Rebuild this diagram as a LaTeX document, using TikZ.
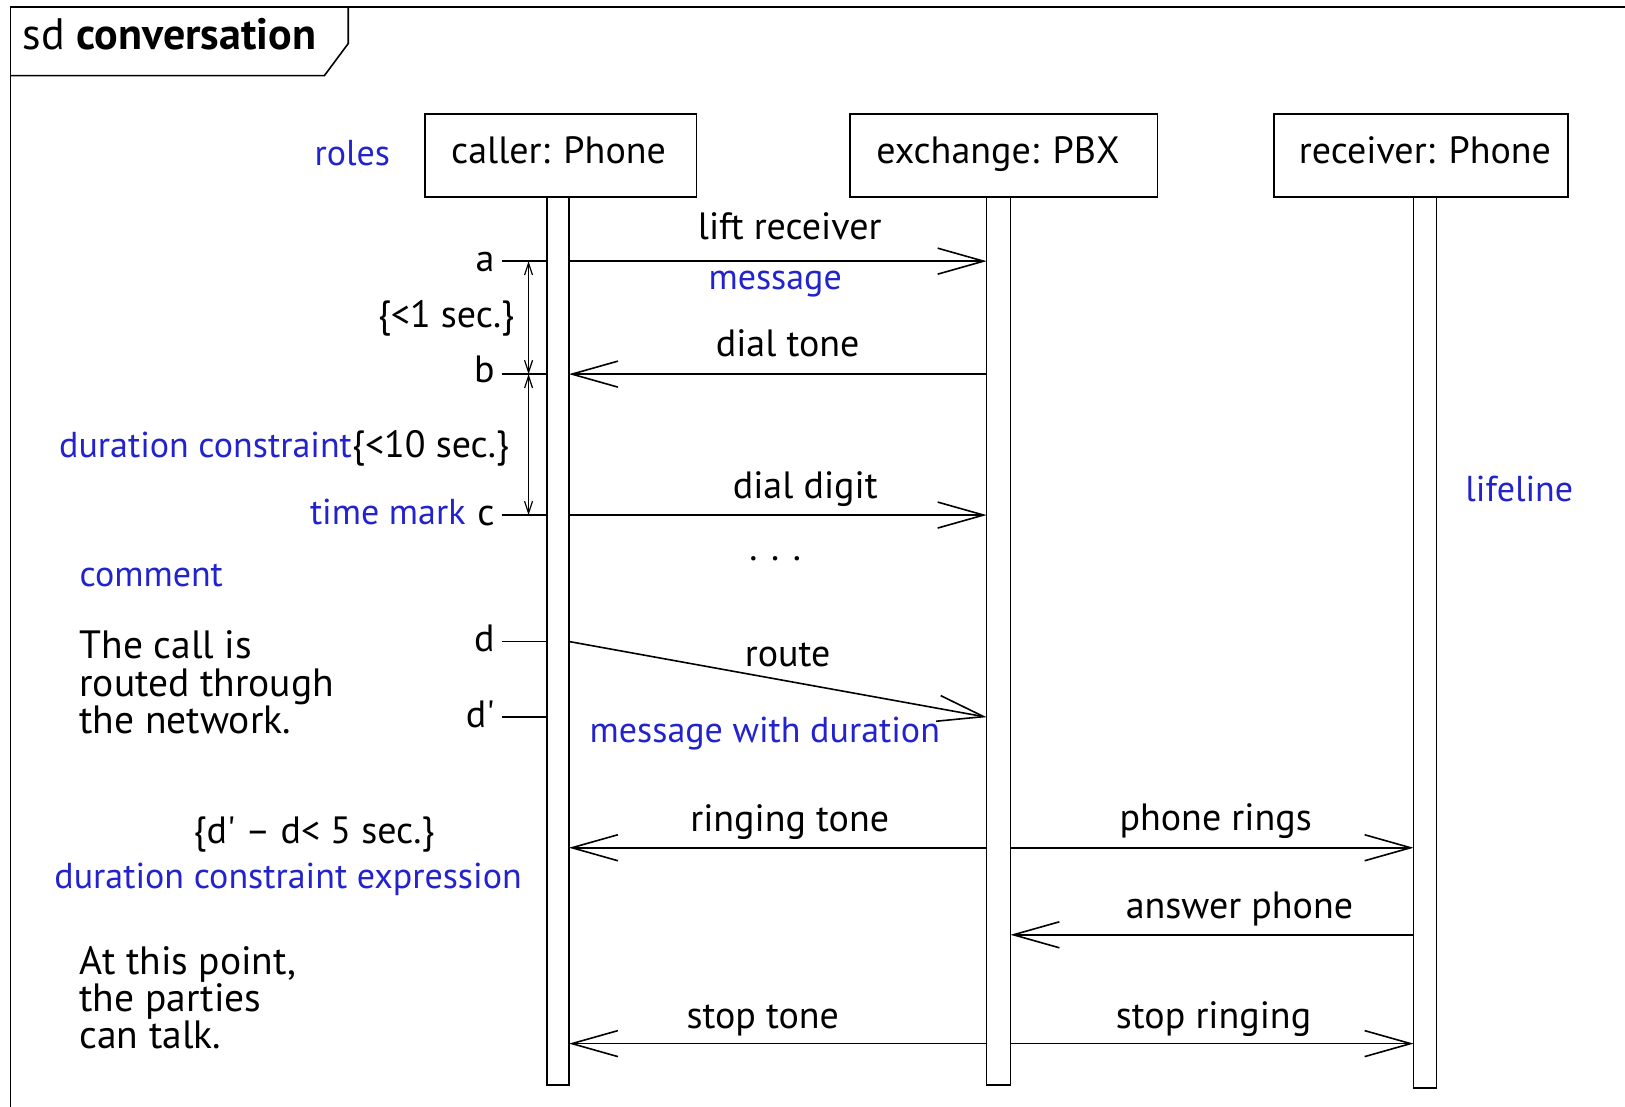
\documentclass[tikz,border=0pt]{standalone}
\usepackage{fontspec}
\setmainfont{PT Sans}
\usetikzlibrary{arrows.meta}
\definecolor{ublue}{RGB}{35,35,205}
\begin{document}
\begin{tikzpicture}[x=1.0364pt,y=-1.0364pt,line width=1.6pt,
  lbl/.style={inner sep=0pt,anchor=base,font=\fontsize{38}{38}\selectfont},
  blbl/.style={lbl,text=ublue,font=\fontsize{36}{36}\selectfont},
  cmt/.style={lbl,anchor=base west,font=\fontsize{39.5}{39.5}\selectfont},
  head/.style={draw,inner sep=0pt,minimum height=82.9pt},
  bar/.style={draw,fill=white},
  msg/.style={-{Straight Barb[length=46pt,width=26pt]}},
  dur/.style={line width=1.2pt,{Straight Barb[length=12pt,width=8pt]}-{Straight Barb[length=12pt,width=8pt]}}]
\useasboundingbox (0,0) rectangle (1568,1068);
% frame
\draw (1568,7) -- (10,7) -- (10,1068);
\draw (10,73) -- (313,73) -- (336,42) -- (336,7);
\node[lbl,anchor=base west,font=\fontsize{44}{44}\selectfont] (title) at (21,48) {sd \textbf{conversation}};
% heads
\node[head,minimum width=271.5pt] (caller) at (541,150) {};
\node[head,minimum width=307.8pt] (exch) at (968.5,150) {};
\node[head,minimum width=294.3pt] (recv) at (1371,150) {};
\node[lbl] (callerL) at (539,158) {caller: Phone};
\node[lbl] (exchL) at (963,158) {exchange: PBX};
\node[lbl] (recvL) at (1375,158) {receiver: Phone};
% bars
\draw[bar] (528,190) rectangle (549,1047);
\draw[bar] (952,190) rectangle (975,1047);
\draw[bar] (1364,190) rectangle (1386,1050);
% coordinates
\coordinate (cA) at (549,252); \coordinate (eA) at (952,252);
\coordinate (cB) at (549,361); \coordinate (eB) at (952,361);
\coordinate (cC) at (549,497); \coordinate (eC) at (952,497);
\coordinate (cD) at (549,619); \coordinate (eD) at (952,692);
\coordinate (cE) at (549,818); \coordinate (eE) at (952,818);
\coordinate (eE2) at (975,818); \coordinate (rE) at (1364,818);
\coordinate (eF) at (975,902); \coordinate (rF) at (1364,902);
\coordinate (cG) at (549,1007); \coordinate (eG) at (952,1007);
\coordinate (eG2) at (975,1007); \coordinate (rG) at (1364,1007);
% time marks
\coordinate (ta0) at (484,252); \coordinate (ta1) at (528,252);
\coordinate (tb0) at (484,361); \coordinate (tb1) at (528,361);
\coordinate (tc0) at (484,497); \coordinate (tc1) at (528,497);
\coordinate (td0) at (484,619); \coordinate (td1) at (528,619);
\coordinate (te0) at (484,692); \coordinate (te1) at (528,692);
\draw (ta0) -- (ta1); \draw (tb0) -- (tb1); \draw (tc0) -- (tc1);
\draw (td0) -- (td1); \draw (te0) -- (te1);
\node[lbl,anchor=base east] (ma) at (478,262) {a};
\node[lbl,anchor=base east] (mb) at (478,369) {b};
\node[lbl,anchor=base east] (mc) at (478,507) {c};
\node[lbl,anchor=base east] (md) at (478,629) {d};
\node[lbl,anchor=base east] (me) at (478,702) {d\textquotesingle};
% duration constraints
\coordinate (da) at (510,252); \coordinate (db) at (510,361); \coordinate (dc) at (510,497);
\draw[dur] (da) -- (db);
\draw[dur] (db) -- (dc);
\node[lbl,anchor=base east] (d1) at (497,316) {\{<1 sec.\}};
\node[lbl,anchor=base east] (d2) at (492,441) {\textcolor{ublue}{\fontsize{36}{36}\selectfont duration constraint}\{<10 sec.\}};
\node[blbl,anchor=base east] (tm) at (450,506) {time mark};
% messages
\draw[msg] (cA) -- (eA);
\draw[msg] (eB) -- (cB);
\draw[msg] (cC) -- (eC);
\draw[msg] (cD) -- (eD);
\draw[msg] (eE) -- (cE);
\draw[msg] (eE2) -- (rE);
\draw[msg] (rF) -- (eF);
\draw[msg] (eG) -- (cG);
\draw[msg] (eG2) -- (rG);
% message labels
\node[lbl] (l1) at (762,231) {lift receiver};
\node[blbl] (l1b) at (748,279) {message};
\node[lbl] (l2) at (760,344) {dial tone};
\node[lbl] (l3) at (777,481) {dial digit};
\node[lbl] (l3b) at (748,541) {. . .};
\node[lbl] (l4) at (760,643) {route};
\node[blbl] (l4b) at (738,716) {message with duration};
\node[lbl] (l5) at (762,802) {ringing tone};
\node[lbl] (l6) at (1173,801) {phone rings};
\node[lbl] (l7) at (1196,886) {answer phone};
\node[lbl] (l8) at (736,992) {stop tone};
\node[lbl] (l9) at (1171,992) {stop ringing};
% annotations
\node[blbl] (roles) at (340,160) {roles};
\node[blbl] (life) at (1466,484) {lifeline};
\node[blbl,anchor=base west] (comm) at (76,566) {comment};
\node[cmt] (n1) at (76,635) {The call is};
\node[cmt] (n2) at (76,672) {routed through};
\node[cmt] (n3) at (76,708) {the network.};
\node[lbl] (dx) at (303,814) {\{d\textquotesingle{} – d< 5 sec.\}};
\node[blbl] (dxe) at (278,857) {duration constraint expression};
\node[cmt] (n4) at (76,940) {At this point,};
\node[cmt] (n5) at (76,976) {the parties};
\node[cmt] (n6) at (76,1012) {can talk.};
\end{tikzpicture}
\end{document}
